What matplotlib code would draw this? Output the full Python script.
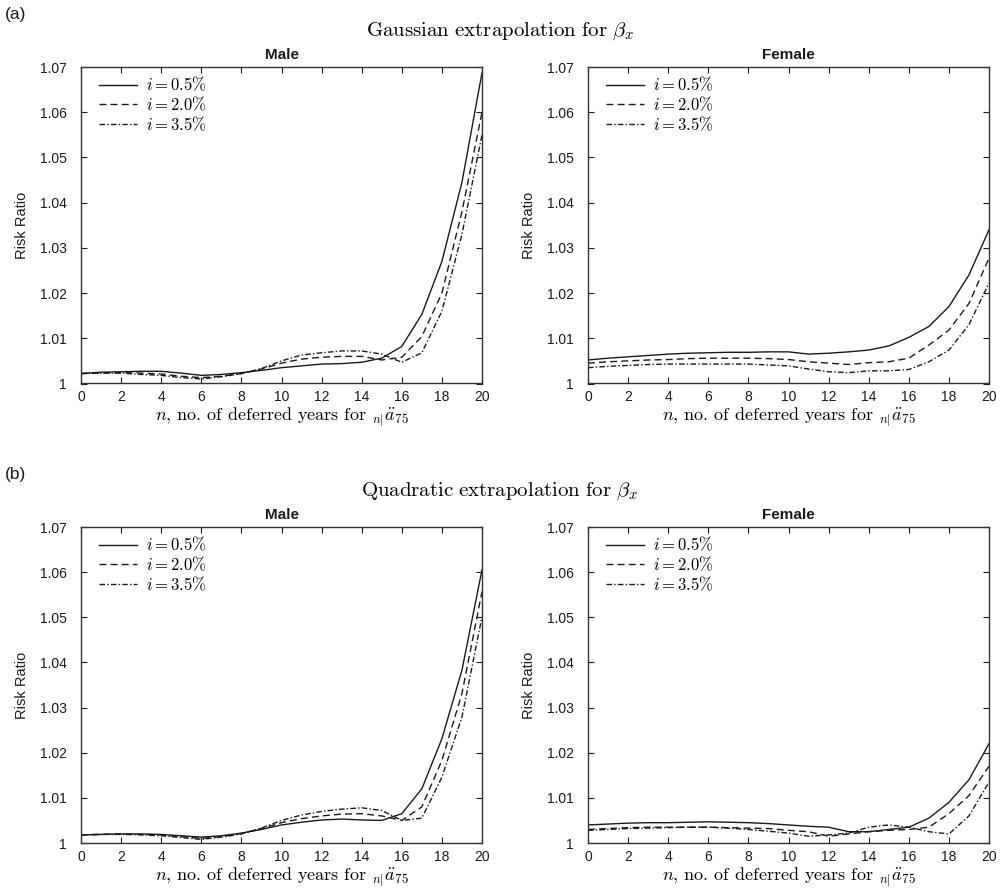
import matplotlib
matplotlib.use("Agg")
import matplotlib.pyplot as plt
import numpy as np

plt.rcParams['mathtext.fontset'] = 'cm'
plt.rcParams['font.family'] = ['Liberation Sans', 'DejaVu Sans']

# ---------------- data ----------------
n_years = list(range(0, 21))
rate_labels = [r"$i = 0.5\%$", r"$i = 2.0\%$", r"$i = 3.5\%$"]
xticks = [0, 2, 4, 6, 8, 10, 12, 14, 16, 18, 20]
yticks = [1.00, 1.01, 1.02, 1.03, 1.04, 1.05, 1.06, 1.07]
ytick_labels = ["1", "1.01", "1.02", "1.03", "1.04", "1.05", "1.06", "1.07"]

# (a) Gaussian extrapolation, Male
gauss_male_05 = [1.0022, 1.0025, 1.0026, 1.0027, 1.0027, 1.0023, 1.0018, 1.0020, 1.0024, 1.0029, 1.0035,
                 1.0039, 1.0043, 1.0044, 1.0047, 1.0056, 1.0082, 1.0153, 1.0270, 1.0445, 1.0687]
gauss_male_20 = [1.0022, 1.0023, 1.0024, 1.0023, 1.0021, 1.0016, 1.0013, 1.0016, 1.0022, 1.0032, 1.0045,
                 1.0054, 1.0058, 1.0060, 1.0060, 1.0052, 1.0058, 1.0104, 1.0200, 1.0380, 1.0600]
gauss_male_35 = [1.0022, 1.0023, 1.0023, 1.0020, 1.0018, 1.0013, 1.0010, 1.0015, 1.0022, 1.0033, 1.0050,
                 1.0063, 1.0068, 1.0072, 1.0072, 1.0065, 1.0047, 1.0068, 1.0160, 1.0330, 1.0550]
# (a) Gaussian extrapolation, Female
gauss_female_05 = [1.0052, 1.0056, 1.0059, 1.0062, 1.0065, 1.0067, 1.0068, 1.0069, 1.0069, 1.0070, 1.0070,
                   1.0065, 1.0067, 1.0070, 1.0074, 1.0083, 1.0102, 1.0126, 1.0170, 1.0240, 1.0340]
gauss_female_20 = [1.0045, 1.0048, 1.0050, 1.0052, 1.0053, 1.0055, 1.0056, 1.0056, 1.0056, 1.0055, 1.0053,
                   1.0048, 1.0045, 1.0042, 1.0046, 1.0048, 1.0056, 1.0085, 1.0118, 1.0177, 1.0277]
gauss_female_35 = [1.0035, 1.0038, 1.0040, 1.0042, 1.0043, 1.0043, 1.0043, 1.0043, 1.0043, 1.0041, 1.0039,
                   1.0032, 1.0026, 1.0024, 1.0028, 1.0028, 1.0031, 1.0048, 1.0074, 1.0130, 1.0222]
# (b) Quadratic extrapolation, Male
quad_male_05 = [1.0018, 1.0019, 1.0020, 1.0020, 1.0019, 1.0016, 1.0013, 1.0016, 1.0022, 1.0030, 1.0040,
                1.0046, 1.0051, 1.0053, 1.0051, 1.0050, 1.0065, 1.0120, 1.0231, 1.0383, 1.0605]
quad_male_20 = [1.0018, 1.0019, 1.0020, 1.0019, 1.0018, 1.0014, 1.0010, 1.0014, 1.0021, 1.0032, 1.0045,
                1.0054, 1.0060, 1.0064, 1.0065, 1.0060, 1.0050, 1.0080, 1.0183, 1.0331, 1.0557]
quad_male_35 = [1.0018, 1.0019, 1.0019, 1.0018, 1.0016, 1.0012, 1.0008, 1.0013, 1.0020, 1.0033, 1.0050,
                1.0062, 1.0070, 1.0075, 1.0078, 1.0072, 1.0050, 1.0055, 1.0146, 1.0279, 1.0501]
# (b) Quadratic extrapolation, Female
quad_female_05 = [1.0040, 1.0042, 1.0044, 1.0045, 1.0045, 1.0046, 1.0047, 1.0046, 1.0045, 1.0043, 1.0040,
                  1.0037, 1.0035, 1.0025, 1.0025, 1.0030, 1.0035, 1.0055, 1.0090, 1.0140, 1.0220]
quad_female_20 = [1.0030, 1.0032, 1.0034, 1.0035, 1.0035, 1.0035, 1.0035, 1.0034, 1.0033, 1.0032, 1.0028,
                  1.0025, 1.0015, 1.0020, 1.0025, 1.0028, 1.0030, 1.0035, 1.0065, 1.0105, 1.0170]
quad_female_35 = [1.0028, 1.0030, 1.0032, 1.0033, 1.0034, 1.0035, 1.0035, 1.0033, 1.0030, 1.0026, 1.0022,
                  1.0015, 1.0018, 1.0022, 1.0035, 1.0040, 1.0035, 1.0025, 1.0020, 1.0060, 1.0135]

panels = [
    ("Male", [gauss_male_05, gauss_male_20, gauss_male_35]),
    ("Female", [gauss_female_05, gauss_female_20, gauss_female_35]),
    ("Male", [quad_male_05, quad_male_20, quad_male_35]),
    ("Female", [quad_female_05, quad_female_20, quad_female_35]),
]

# ---------------- figure ----------------
W, H = 1000, 896
fig = plt.figure(figsize=(W / 100, H / 100), dpi=100)

def px_axes(x0, y_top, x1, y_bot):
    return [x0 / W, 1 - y_bot / H, (x1 - x0) / W, (y_bot - y_top) / H]

rects = [
    px_axes(81, 67, 482, 383.5),
    px_axes(588, 67, 989, 383.5),
    px_axes(81, 527, 482, 843),
    px_axes(588, 527, 989, 843),
]

styles = [dict(linestyle='-'), dict(dashes=(5, 3)), dict(dashes=(4, 1.6, 1, 1.6))]
xlab = r"$n$, no. of deferred years for ${}_{n|}\ddot{a}_{75}$"

for rect, (title, series) in zip(rects, panels):
    ax = fig.add_axes(rect)
    for vals, lab, st in zip(series, rate_labels, styles):
        ax.plot(n_years, vals, color='#1a1a1a', linewidth=1.0, label=lab, **st)
    ax.set_xlim(0, 20)
    ax.set_ylim(1.0, 1.07)
    ax.set_xticks(xticks)
    ax.set_yticks(yticks)
    ax.set_yticklabels(ytick_labels)
    ax.tick_params(direction='in', top=True, right=True, length=4, width=0.8,
                   labelsize=10, colors='#1a1a1a')
    ax.tick_params(axis='y', pad=10)
    ax.tick_params(axis='x', pad=5)
    for sp in ax.spines.values():
        sp.set_linewidth(1.0)
        sp.set_color('#333333')
    ax.set_title(title, fontsize=11, fontweight='bold', pad=6, color='#1a1a1a')
    ax.set_ylabel("Risk Ratio", fontsize=10.5, labelpad=8, color='#1a1a1a')
    ax.set_xlabel(xlab, fontsize=13, labelpad=1, family=['cmr10', 'DejaVu Serif'])
    leg = ax.legend(loc='upper left', bbox_to_anchor=(0.045, 0.975), frameon=False,
                    fontsize=12, handlelength=2.3, handletextpad=0.5,
                    labelspacing=0.08, borderpad=0, borderaxespad=0)

fig.text(0.5, 1 - 31 / H, r"$\mathrm{Gaussian\ extrapolation\ for\ }\beta_x$",
         ha='center', va='center', fontsize=15)
fig.text(0.5, 1 - 491 / H, r"$\mathrm{Quadratic\ extrapolation\ for\ }\beta_x$",
         ha='center', va='center', fontsize=15)
fig.text(5 / W, 1 - 14 / H, "(a)", ha='left', va='center', fontsize=12.5, color='#1a1a1a')
fig.text(5 / W, 1 - 474 / H, "(b)", ha='left', va='center', fontsize=12.5, color='#1a1a1a')

fig.savefig("out.png", dpi=100)
